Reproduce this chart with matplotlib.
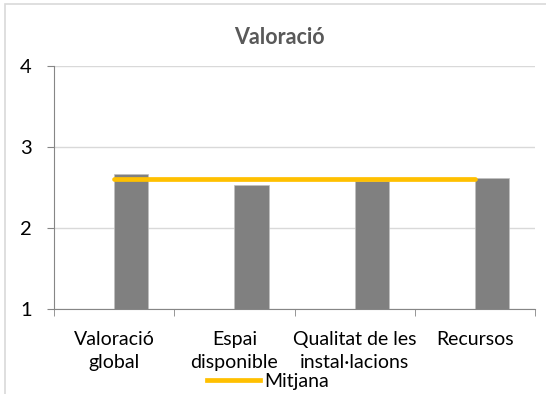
import matplotlib
matplotlib.use("Agg")
import matplotlib.pyplot as plt
import numpy as np
from matplotlib.patches import Rectangle
from matplotlib.lines import Line2D

categories = ["Valoració\nglobal", "Espai\ndisponible", "Qualitat de les\ninstal·lacions", "Recursos"]
values = [2.67, 2.53, 2.58, 2.62]
mitjana = [2.60, 2.60, 2.60, 2.60]
yticks = [1, 2, 3, 4]

plt.rcParams['font.family'] = ['Lato', 'DejaVu Sans']

W, H = 546, 394
fig = plt.figure(figsize=(W/100, H/100), dpi=100)
fig.patches.append(Rectangle((5/W, -0.1), 1.2, (1 - 4/H) + 0.1, transform=fig.transFigure,
                             fill=False, edgecolor='#d9d9d9', linewidth=1.2))

L, R, T, B = 54, 535, 66, 309
ax = fig.add_axes([L/W, 1 - B/H, (R-L)/W, (B-T)/H])
x = np.arange(len(categories))
bw = 1/3.5
ax.bar(x + bw/2, values, width=bw, bottom=0, color='#808080', edgecolor='#bfbfbf', linewidth=0.5, zorder=2)
ax.plot(x, mitjana, color='#FFC000', linewidth=3.4, solid_capstyle='round', zorder=3)

ax.set_xlim(-0.5, len(categories) - 0.5)
ax.set_ylim(1, 4)
ax.set_yticks(yticks)
ax.set_yticklabels([str(v) for v in yticks], fontsize=14.5)
ax.yaxis.grid(True, color='#d9d9d9', linewidth=1, zorder=0)
ax.set_axisbelow(True)
for s in ['top', 'right']:
    ax.spines[s].set_visible(False)
ax.spines['left'].set_color('#868686')
ax.spines['bottom'].set_color('#868686')
ax.tick_params(axis='y', length=5, color='#868686', pad=11)
ax.set_xticks(np.arange(-0.5, len(categories)), minor=True)
ax.set_xticks(x)
ax.set_xticklabels(categories, fontsize=14, linespacing=1.4)
ax.tick_params(axis='x', which='major', length=0, pad=16)
ax.tick_params(axis='x', which='minor', length=5, color='#868686')

fig.text(279/W, 1 - 38/H, "Valoració", ha='center', va='center', fontsize=15.5,
         fontweight='bold', color='#595959')

leg = ax.legend([Line2D([0], [0], color='#FFC000', linewidth=3.4)], ["Mitjana"],
                loc='center', bbox_to_anchor=(268/W, 1 - 381/H), bbox_transform=fig.transFigure,
                frameon=False, fontsize=14, handlelength=2.7, handletextpad=0.2, borderpad=0)

fig.savefig("out.png", dpi=100)
